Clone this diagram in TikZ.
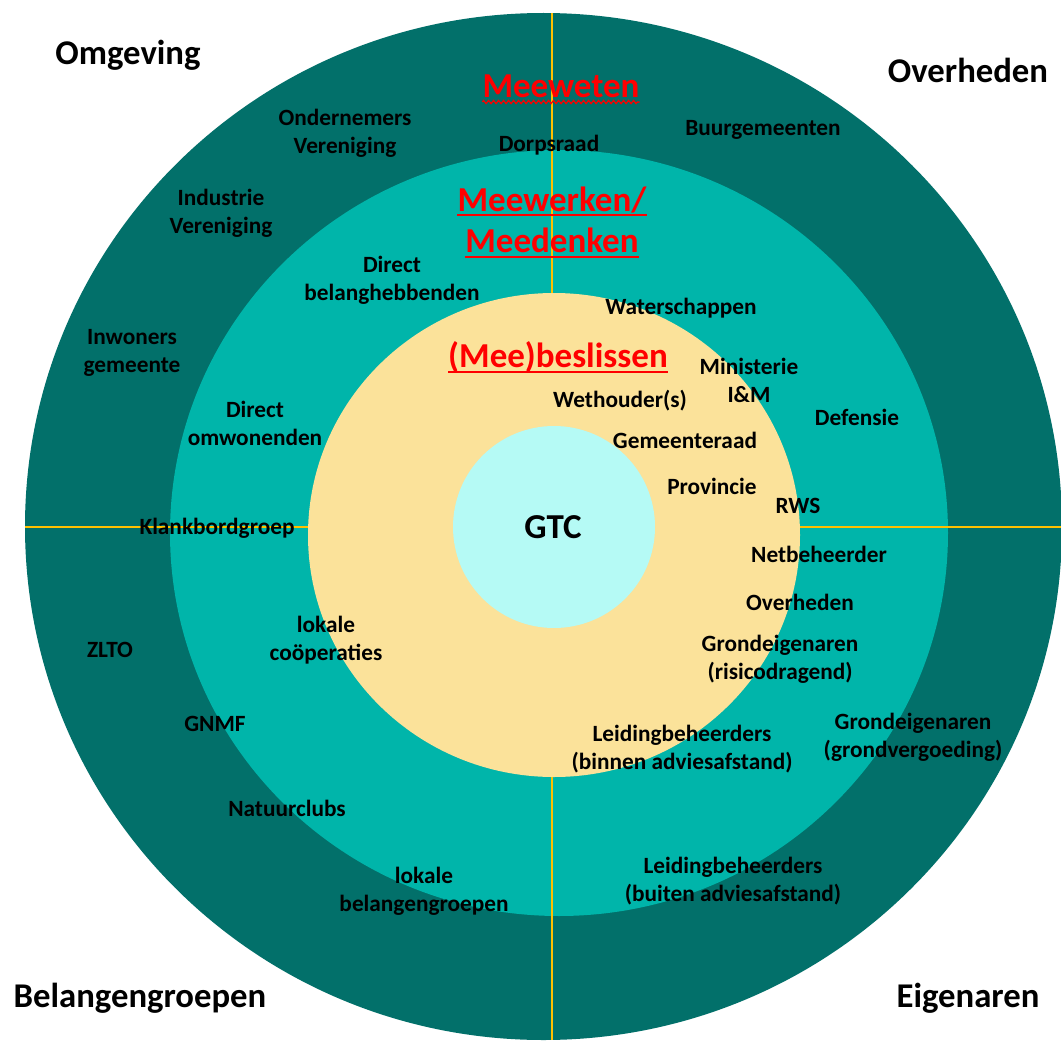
\documentclass[tikz,border=0pt]{standalone}
\usepackage{fontspec}
\setmainfont{Carlito}
\usetikzlibrary{decorations.pathmorphing}
\definecolor{darkring}{HTML}{02706A}
\definecolor{midring}{HTML}{00B5AA}
\definecolor{yellowring}{HTML}{FBE29A}
\definecolor{corering}{HTML}{B5FAF5}
\definecolor{axisline}{HTML}{FFC000}
\definecolor{hdred}{HTML}{FF0000}
\tikzset{
  lbl/.style={font=\fontsize{23.3}{28}\selectfont\bfseries, align=center, inner sep=0pt, text=black},
  corner/.style={font=\fontsize{34.7}{40}\selectfont\bfseries, inner sep=0pt, text=black},
  level/.style={font=\fontsize{35}{41}\selectfont\bfseries, inner sep=0pt, text=hdred, anchor=base},
  uline/.style={draw=hdred, line width=2.6pt},
}
\begin{document}
\begin{tikzpicture}[x=1pt,y=-1pt]
\clip (0,0) rectangle (1061,1041);
\fill[white] (0,0) rectangle (1061,1041);
% rings
\fill[darkring] (543.5,526.5) ellipse [x radius=518.5, y radius=513.5];
\fill[midring] (559,533) ellipse [x radius=389, y radius=383];
\begin{scope}
  \clip (543.5,526.5) ellipse [x radius=518.5, y radius=513.5];
  \draw[axisline, line width=2.2pt] (552,0) -- (552,1041);
  \draw[axisline, line width=2.2pt] (0,527) -- (1061,527);
\end{scope}
\fill[yellowring] (554,535) ellipse [x radius=246, y radius=242];
\fill[corering] (554,527) circle [radius=101];
% corner titles
\node[corner] (omg) at (128,55) {Omgeving};
\node[corner] (ovh) at (968,70) {Overheden};
\node[corner] (bel) at (140,998) {Belangengroepen};
\node[corner] (eig) at (968,998) {Eigenaren};
% level headings
\node[level] (meeweten) at (561,98) {Meeweten};
\draw[hdred, line width=1.2pt, decorate, decoration={zigzag, segment length=5pt, amplitude=1.6pt}]
  ([yshift=-4pt]meeweten.base west) -- ([yshift=-4pt]meeweten.base east);
\node[level] (meewerken) at (552,211) {Meewerken/};
\draw[uline] ([yshift=-4pt]meewerken.base west) -- ([yshift=-4pt]meewerken.base east);
\node[level] (meedenken) at (552,252) {Meedenken};
\draw[uline] ([yshift=-5pt]meedenken.base west) -- ([yshift=-5pt]meedenken.base east);
\node[level] (beslissen) at (558,367) {(Mee)beslissen};
\draw[uline] ([yshift=-5pt]beslissen.base west) -- ([yshift=-5pt]beslissen.base east);
\node[font=\fontsize{35}{41}\selectfont\bfseries, inner sep=0pt] (gtc) at (553,527) {GTC};
% labels
\node[lbl] (ond) at (345,133) {Ondernemers\\Vereniging};
\node[lbl] (dorp) at (549,145) {Dorpsraad};
\node[lbl] (buur) at (763,130) {Buurgemeenten};
\node[lbl] (ind) at (221,213) {Industrie\\Vereniging};
\node[lbl] (dbel) at (392,280) {Direct\\belanghebbenden};
\node[lbl] (water) at (681,308) {Waterschappen};
\node[lbl] (inw) at (132,353) {Inwoners\\gemeente};
\node[lbl] (min) at (749,380) {Ministerie\\I\&M};
\node[lbl] (weth) at (620,401) {Wethouder(s)};
\node[lbl] (def) at (857,417) {Defensie};
\node[lbl] (domw) at (255,423) {Direct\\omwonenden};
\node[lbl] (gemr) at (685,440) {Gemeenteraad};
\node[lbl] (prov) at (712,486) {Provincie};
\node[lbl] (rws) at (798,506) {RWS};
\node[lbl] (klank) at (217,528) {Klankbordgroep};
\node[lbl] (net) at (819,554) {Netbeheerder};
\node[lbl] (ovh2) at (800,602) {Overheden};
\node[lbl] (coop) at (326,640) {lokale\\coöperaties};
\node[lbl] (zlto) at (110,650) {ZLTO};
\node[lbl] (gr1) at (780,659) {Grondeigenaren\\(risicodragend)};
\node[lbl] (gnmf) at (215,724) {GNMF};
\node[lbl] (gr2) at (913,737) {Grondeigenaren\\(grondvergoeding)};
\node[lbl] (lb1) at (682,749) {Leidingbeheerders\\(binnen adviesafstand)};
\node[lbl] (nat) at (287,808) {Natuurclubs};
\node[lbl] (lbg) at (424,891) {lokale\\belangengroepen};
\node[lbl] (lb2) at (733,881) {Leidingbeheerders\\(buiten adviesafstand)};
\end{tikzpicture}
\end{document}
